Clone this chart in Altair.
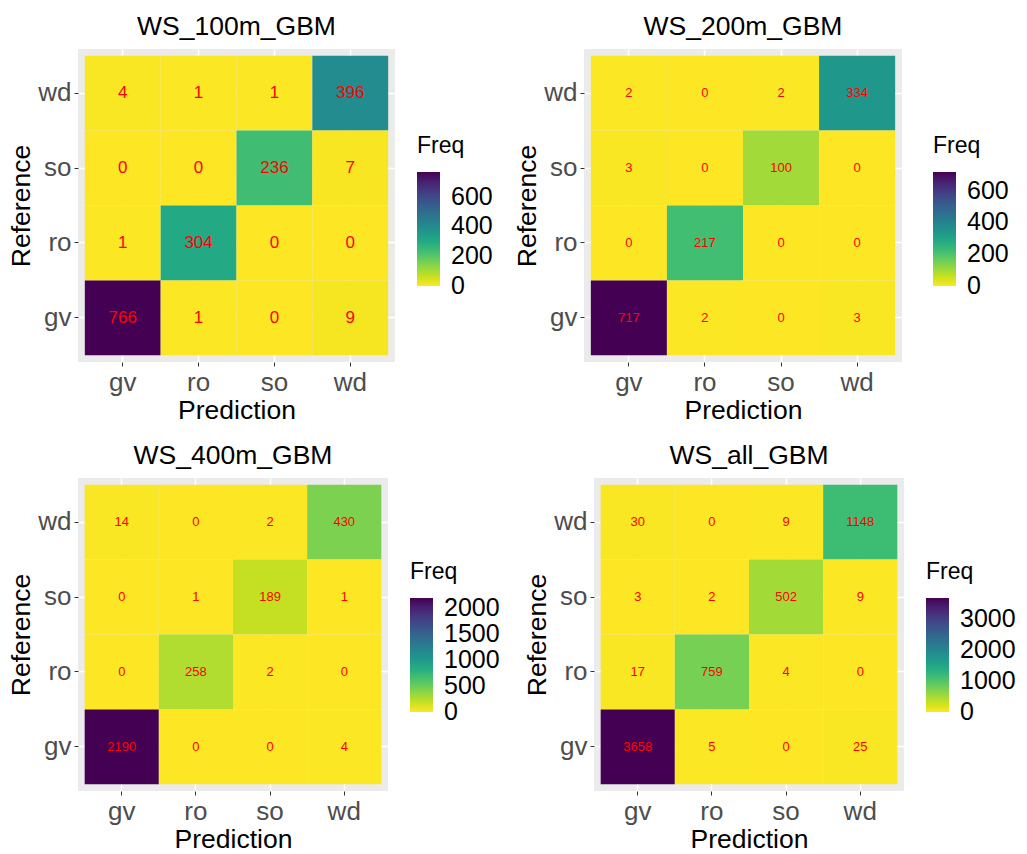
import altair as alt
import pandas as pd

FONT = "Liberation Sans"

preds = ["gv", "ro", "so", "wd"]
refs = ["wd", "so", "ro", "gv"]

titles = ["WS_100m_GBM", "WS_200m_GBM", "WS_400m_GBM", "WS_all_GBM"]

# rows = Reference (wd, so, ro, gv), columns = Prediction (gv, ro, so, wd)
ws100 = [[4, 1, 1, 396], [0, 0, 236, 7], [1, 304, 0, 0], [766, 1, 0, 9]]
ws200 = [[2, 0, 2, 334], [3, 0, 100, 0], [0, 217, 0, 0], [717, 2, 0, 3]]
ws400 = [[14, 0, 2, 430], [0, 1, 189, 1], [0, 258, 2, 0], [2190, 0, 0, 4]]
wsall = [[30, 0, 9, 1148], [3, 2, 502, 9], [17, 759, 4, 0], [3658, 5, 0, 25]]

# legend tick values (the lowest, 0, is nudged so it is labelled centred on the bar end)
legend_ticks = [
    [0.01, 200, 400, 600],
    [0.01, 200, 400, 600],
    [0.01, 500, 1000, 1500, 2000],
    [0.01, 1000, 2000, 3000],
]


def to_df(mat):
    rows = []
    for i, r in enumerate(refs):
        for j, p in enumerate(preds):
            rows.append({"Reference": r, "Prediction": p, "Freq": mat[i][j]})
    return pd.DataFrame(rows)


def panel(title, mat, width, text_size, ticks, lx, ly):
    df = to_df(mat)
    base = alt.Chart(df)
    x = alt.X(
        "Prediction:O",
        sort=preds,
        scale=alt.Scale(paddingInner=0, paddingOuter=0.09),
        axis=alt.Axis(labelAngle=0, bandPosition=0.5, title="Prediction", zindex=0),
    )
    y = alt.Y(
        "Reference:O",
        sort=refs,
        scale=alt.Scale(paddingInner=0, paddingOuter=0.09),
        axis=alt.Axis(bandPosition=0.5, title="Reference", zindex=0),
    )
    rect = base.mark_rect().encode(
        x=x,
        y=y,
        color=alt.Color(
            "Freq:Q",
            scale=alt.Scale(scheme="viridis", reverse=True),
            legend=alt.Legend(
                title="Freq",
                orient="none",
                legendX=lx,
                legendY=ly,
                values=ticks,
                labelExpr="datum.value < 1 ? '0' : format(datum.value, 'd')",
                gradientLength=114,
                gradientThickness=23,
                gradientStrokeWidth=0,
                titleFontSize=23,
                titleFont=FONT,
                titleFontWeight="normal",
                titleColor="black",
                titlePadding=14,
                labelFontSize=25,
                labelFont=FONT,
                labelColor="black",
                labelOffset=11,
                labelOverlap=False,
            ),
        ),
    )
    text = base.mark_text(
        color="#FF0000", fontSize=text_size, font=FONT, baseline="middle", align="center"
    ).encode(x=x, y=y, text="Freq:Q")
    return (rect + text).properties(
        width=width,
        height=313,
        title=alt.TitleParams(
            title, fontSize=26.5, font=FONT, fontWeight="normal", color="black",
            anchor="middle", frame="group", offset=9,
        ),
    )


p1 = panel(titles[0], ws100, 317, 17, legend_ticks[0], 339, 86)
p2 = panel(titles[1], ws200, 318, 13, legend_ticks[1], 349, 86)
p3 = panel(titles[2], ws400, 310, 13, legend_ticks[2], 332, 83)
p4 = panel(titles[3], wsall, 310, 13, legend_ticks[3], 332, 83)

row1 = alt.hconcat(p1, p2, spacing=21).resolve_scale(color="independent")
row2 = alt.hconcat(p3, p4, spacing=24).resolve_scale(color="independent")

chart = (
    alt.vconcat(row1, row2, spacing=18)
    .resolve_scale(color="independent")
    .properties(padding={"left": 8, "top": 13, "right": 5, "bottom": 0}, background="white")
    .configure_view(fill="#EBEBEB", strokeWidth=0)
    .configure_axis(
        domain=False,
        grid=True,
        gridColor="white",
        gridWidth=1.5,
        ticks=True,
        tickColor="#333333",
        tickSize=4,
        tickWidth=1,
        labelFont=FONT,
        labelFontSize=26,
        labelColor="#4D4D4D",
        labelPadding=3,
        titleFont=FONT,
        titleFontSize=26.5,
        titleFontWeight="normal",
        titleColor="black",
        titlePadding=2,
    )
)

chart.save("out.html", embed_options={"renderer": "svg", "actions": False})
